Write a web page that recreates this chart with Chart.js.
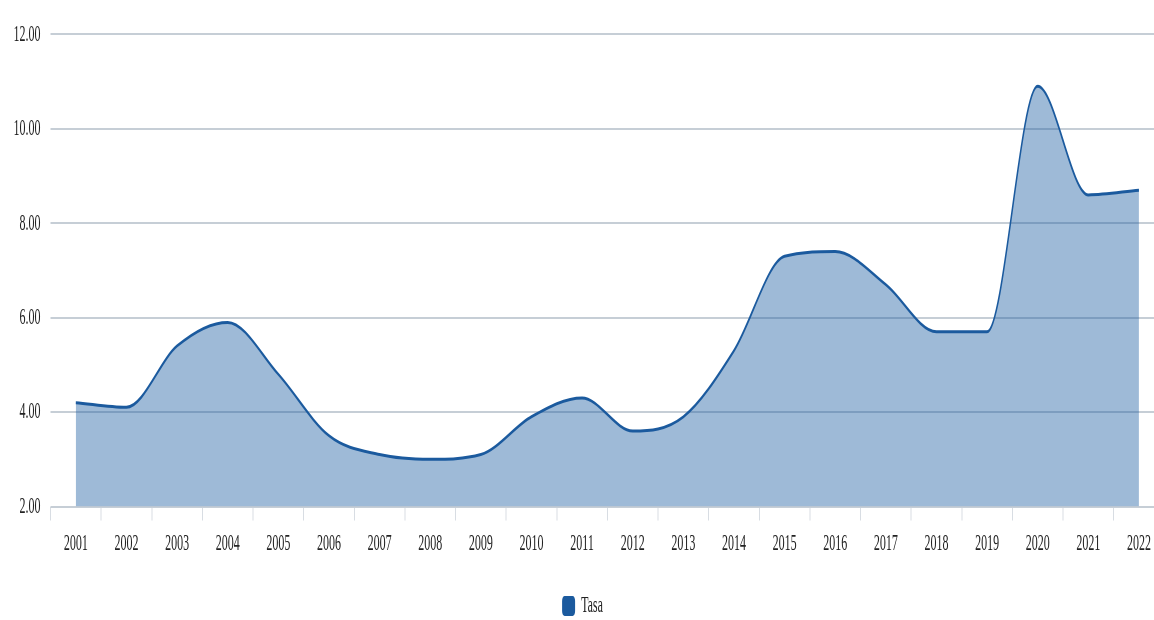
<!DOCTYPE html>
<html>
<head>
<meta charset="utf-8">
<script src="https://cdn.jsdelivr.net/npm/chart.js@4/dist/chart.umd.min.js"></script>
<style>
  html, body { margin: 0; padding: 0; overflow: hidden; background: #fff; }
  /* the reference picture is squeezed sideways, so draw wide and squeeze */
  #wrap { width: 2330px; height: 620px; transform: scaleX(0.5); transform-origin: 0 0; }
</style>
</head>
<body>
<div id="wrap"><canvas id="tasaChart"></canvas></div>
<script>
const years = ['2001', '2002', '2003', '2004', '2005', '2006', '2007', '2008', '2009', '2010', '2011',
  '2012', '2013', '2014', '2015', '2016', '2017', '2018', '2019', '2020', '2021', '2022'];
const tasa = [4.2, 4.1, 5.4, 5.9, 4.8, 3.5, 3.1, 3.0, 3.1, 3.9, 4.3,
  3.6, 3.9, 5.3, 7.3, 7.4, 6.7, 5.7, 5.7, 10.9, 8.6, 8.7];
const yMin = 2;
const yMax = 12;
const yStep = 2;

const lineColor = '#1b5a9e';
const fillColor = 'rgba(24, 90, 160, 0.42)';

Chart.defaults.font.family = "'Liberation Serif', 'Times New Roman', serif";
Chart.defaults.color = '#222';

const ctx = document.getElementById('tasaChart').getContext('2d');

new Chart(ctx, {
  type: 'line',
  data: {
    labels: years,
    datasets: [{
      label: 'Tasa',
      data: tasa,
      borderColor: lineColor,
      backgroundColor: fillColor,
      borderWidth: 3,
      fill: 'start',
      pointRadius: 0,
      cubicInterpolationMode: 'monotone'
    }]
  },
  options: {
    responsive: true,
    maintainAspectRatio: false,
    animation: false,
    layout: { padding: { top: 25, left: 0, right: 0, bottom: -8 } },
    plugins: {
      tooltip: { enabled: false },
      legend: {
        position: 'bottom',
        labels: {
          font: { size: 24 },
          color: '#222',
          boxWidth: 26,
          boxHeight: 20,
          useBorderRadius: true,
          borderRadius: 5,
          padding: 2,
          generateLabels: chart => Chart.defaults.plugins.legend.labels.generateLabels(chart)
            .map(l => Object.assign(l, { fillStyle: lineColor, strokeStyle: lineColor, lineWidth: 0 }))
        }
      }
    },
    scales: {
      x: {
        offset: true,
        grid: {
          offset: true,
          drawOnChartArea: false,
          drawTicks: true,
          tickLength: 14,
          color: '#d8dde3',
          lineWidth: 2
        },
        border: { display: false },
        ticks: { font: { size: 24 }, color: '#222', padding: 9, maxRotation: 0, autoSkip: false },
        afterFit: scale => { scale.height = 85.5; }
      },
      y: {
        min: yMin,
        max: yMax,
        grid: { color: '#c6ced6', lineWidth: 2, drawTicks: false },
        border: { display: false },
        ticks: {
          stepSize: yStep,
          font: { size: 24 },
          color: '#222',
          padding: 20,
          callback: v => v.toFixed(2)
        },
        afterFit: scale => { scale.width = 101; }
      }
    }
  }
});
</script>
</body>
</html>
